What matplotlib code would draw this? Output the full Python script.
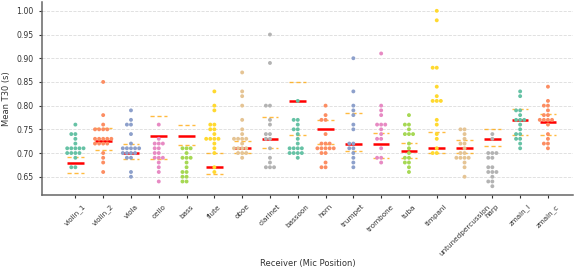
import numpy as np
import pandas as pd
import matplotlib
matplotlib.use("Agg")
import matplotlib.pyplot as plt
import seaborn as sns
from matplotlib.ticker import MultipleLocator, StrMethodFormatter

receivers = ["violin_1", "violin_2", "viola", "cello", "bass", "flute", "oboe",
             "clarinet", "bassoon", "horn", "trumpet", "trombone", "tuba",
             "timpani", "untunedpercussion", "harp", "zmain_l", "zmain_c"]

# mean T30 per source, one list per receiver
violin_1 = [0.76, 0.74, 0.74, 0.73, 0.72, 0.71, 0.71, 0.71, 0.71, 0.71,
            0.70, 0.70, 0.70, 0.70, 0.69, 0.67, 0.67]
violin_2 = [0.85, 0.78, 0.76, 0.75, 0.75, 0.75, 0.75, 0.73, 0.73, 0.73, 0.73, 0.73,
            0.72, 0.72, 0.72, 0.72, 0.70, 0.69, 0.68, 0.66]
viola = [0.79, 0.77, 0.76, 0.76, 0.74, 0.72, 0.71, 0.71, 0.71, 0.71, 0.71,
         0.70, 0.70, 0.70, 0.70, 0.69, 0.69, 0.66, 0.65]
cello = [0.76, 0.73, 0.72, 0.72, 0.72, 0.71, 0.71, 0.70, 0.70, 0.69, 0.69, 0.69,
         0.68, 0.67, 0.66, 0.64]
bass = [0.71, 0.71, 0.71, 0.70, 0.69, 0.69, 0.69, 0.68, 0.67, 0.66, 0.66,
        0.65, 0.65, 0.64, 0.64]
flute = [0.83, 0.80, 0.79, 0.76, 0.76, 0.75, 0.75, 0.74, 0.73, 0.73, 0.73, 0.73,
         0.72, 0.71, 0.70, 0.67, 0.66]
oboe = [0.87, 0.83, 0.82, 0.80, 0.77, 0.75, 0.74, 0.73, 0.73, 0.73, 0.73, 0.72,
        0.71, 0.71, 0.71, 0.71, 0.70, 0.70, 0.70, 0.69]
clarinet = [0.95, 0.89, 0.80, 0.80, 0.77, 0.76, 0.74, 0.74, 0.73, 0.73, 0.71,
            0.69, 0.68, 0.67, 0.67, 0.67]
bassoon = [0.81, 0.77, 0.77, 0.76, 0.75, 0.75, 0.74, 0.73, 0.72, 0.71, 0.71, 0.71,
           0.71, 0.70, 0.70, 0.70, 0.70, 0.69]
horn = [0.80, 0.78, 0.77, 0.77, 0.74, 0.72, 0.72, 0.72, 0.71, 0.71, 0.71, 0.71,
        0.71, 0.70, 0.70, 0.68, 0.67, 0.67]
trumpet = [0.90, 0.83, 0.80, 0.79, 0.78, 0.76, 0.75, 0.72, 0.72, 0.71, 0.71,
           0.70, 0.69, 0.68, 0.67]
trombone = [0.91, 0.80, 0.79, 0.78, 0.76, 0.76, 0.76, 0.75, 0.74, 0.73, 0.73,
            0.71, 0.69, 0.69, 0.68]
tuba = [0.78, 0.76, 0.76, 0.75, 0.74, 0.74, 0.74, 0.72, 0.71, 0.70, 0.69, 0.69,
        0.68, 0.68, 0.67, 0.66]
timpani = [1.00, 0.98, 0.88, 0.88, 0.84, 0.82, 0.81, 0.81, 0.81, 0.77, 0.76,
           0.74, 0.73, 0.71, 0.70, 0.70]
untunedpercussion = [0.75, 0.75, 0.74, 0.73, 0.72, 0.72, 0.71, 0.70, 0.70,
                     0.69, 0.69, 0.69, 0.69, 0.68, 0.67, 0.65]
harp = [0.74, 0.73, 0.70, 0.70, 0.70, 0.69, 0.69, 0.67, 0.67, 0.66, 0.66, 0.66,
        0.65, 0.64, 0.64, 0.63]
zmain_l = [0.83, 0.82, 0.79, 0.79, 0.78, 0.77, 0.77, 0.77, 0.76, 0.75, 0.74, 0.74,
           0.73, 0.73, 0.72, 0.71]
zmain_c = [0.84, 0.81, 0.80, 0.80, 0.79, 0.78, 0.78, 0.77, 0.77, 0.77, 0.77, 0.76,
           0.74, 0.73, 0.72, 0.72, 0.71]

# reference value (red) and the upper / lower dashed bounds (orange)
ref_t30 = [0.68, 0.725, 0.70, 0.735, 0.735, 0.67, 0.71, 0.73, 0.81, 0.75, 0.72,
           0.72, 0.705, 0.71, 0.71, 0.73, 0.77, 0.765]
upper_t30 = [0.692, 0.752, 0.72, 0.778, 0.76, 0.70, 0.726, 0.777, 0.85, 0.77,
             0.785, 0.742, 0.722, 0.745, 0.727, 0.75, 0.793, 0.783]
lower_t30 = [0.657, 0.707, 0.687, 0.687, 0.717, 0.656, 0.70, 0.71, 0.737, 0.72,
             0.705, 0.69, 0.69, 0.70, 0.70, 0.714, 0.737, 0.737]

values = [violin_1, violin_2, viola, cello, bass, flute, oboe, clarinet, bassoon,
          horn, trumpet, trombone, tuba, timpani, untunedpercussion, harp,
          zmain_l, zmain_c]
df = pd.DataFrame({"receiver": np.repeat(receivers, [len(v) for v in values]),
                   "t30": np.concatenate(values)})

fig = plt.figure(figsize=(5.74, 2.78), dpi=100)
ax = fig.add_axes([0.0732, 0.2986, 0.925, 0.694])

sns.swarmplot(data=df, x="receiver", y="t30", hue="receiver", order=receivers,
              hue_order=receivers, palette="Set2", size=2.8, legend=False, ax=ax)
for c in ax.collections:
    c.set_zorder(3)

for i in range(len(receivers)):
    ax.hlines(ref_t30[i], i - 0.3, i + 0.3, color="red", lw=1.8, zorder=2)
    ax.hlines(upper_t30[i], i - 0.3, i + 0.3, color="orange", alpha=0.75,
              lw=1.0, linestyles=(0, (3, 2)), zorder=2)
    ax.hlines(lower_t30[i], i - 0.3, i + 0.3, color="orange", alpha=0.75,
              lw=1.0, linestyles=(0, (3, 2)), zorder=2)

ax.set_xlim(-1.2, 17.9)
ax.set_ylim(0.6115, 1.0185)
ax.yaxis.set_major_locator(MultipleLocator(0.05))
ax.yaxis.set_major_formatter(StrMethodFormatter("{x:.2f}"))
ax.yaxis.grid(True, linestyle="--", color="lightgray", lw=0.6, alpha=0.8)
ax.set_axisbelow(True)

for s in ["top", "right"]:
    ax.spines[s].set_visible(False)
for s in ["left", "bottom"]:
    ax.spines[s].set_color("#666666")
    ax.spines[s].set_linewidth(1.1)

ax.tick_params(axis="both", labelsize=5.6, colors="#333333", length=2.5,
               width=0.8)
ax.tick_params(axis="x", labelsize=5.2)
plt.setp(ax.get_xticklabels(), rotation=45, ha="center")
ax.set_xlabel("Receiver (Mic Position)", fontsize=6, color="#333333", labelpad=1.5)
ax.set_ylabel("Mean T30 (s)", fontsize=6, color="#333333")

fig.savefig("out.png", dpi=100)
